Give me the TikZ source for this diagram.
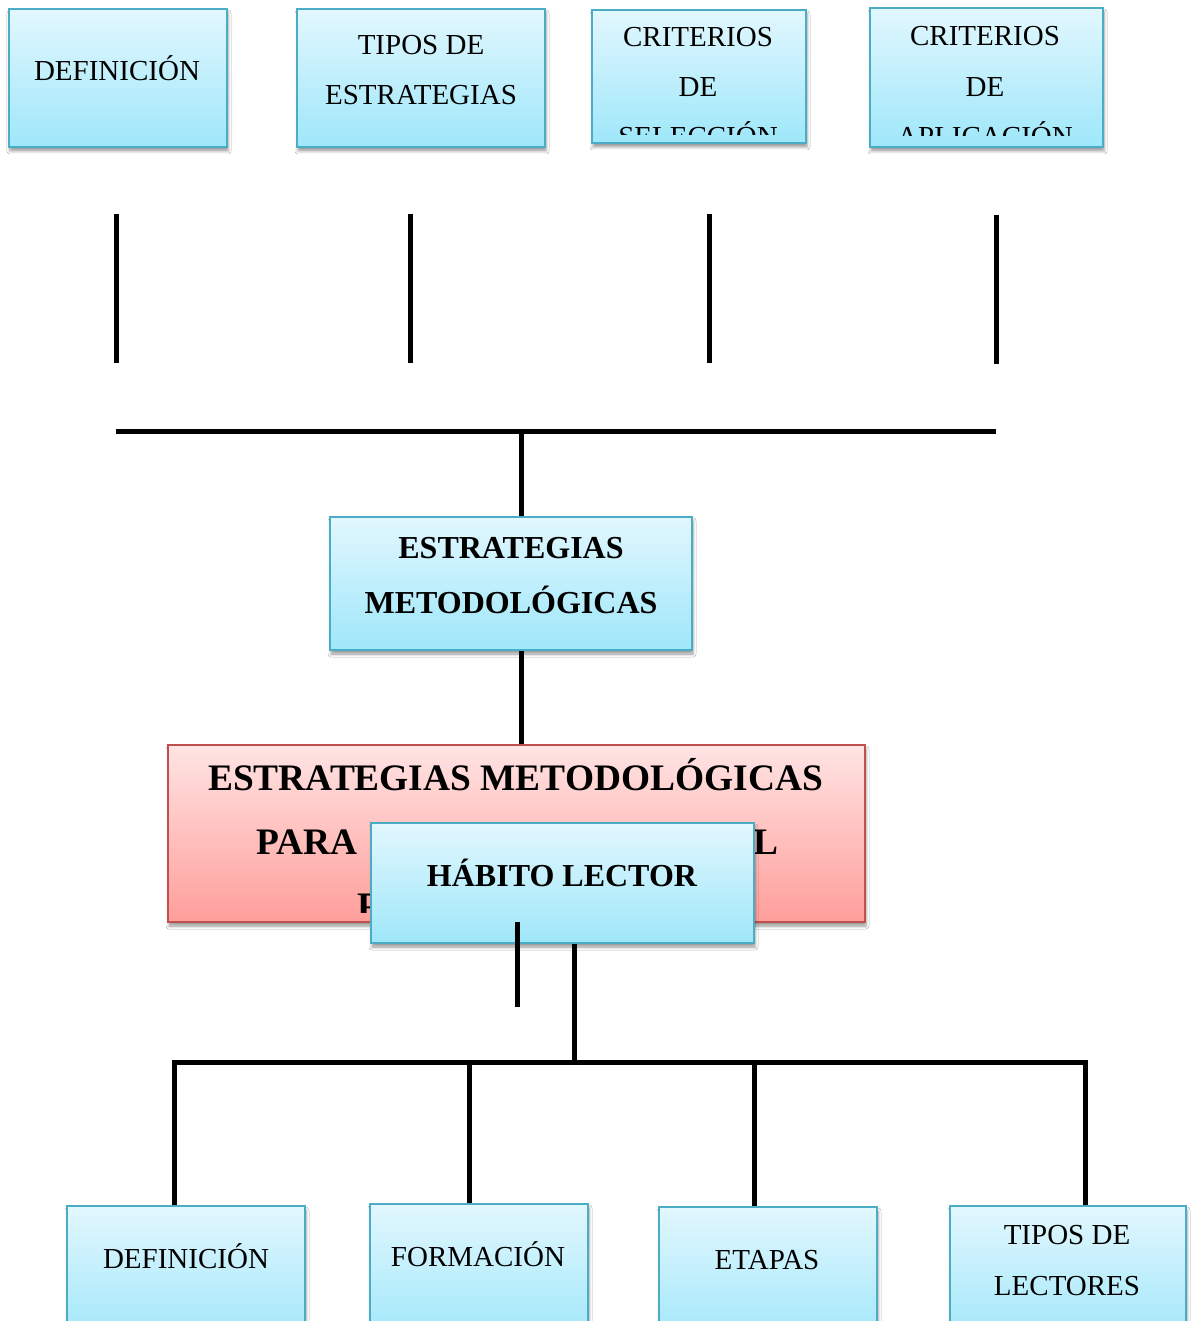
\documentclass[tikz,border=0pt]{standalone}
\usepackage{fontspec}
\setmainfont{Liberation Serif}
\usetikzlibrary{shadows.blur}
\definecolor{bluetop}{RGB}{226,247,254}
\definecolor{bluebot}{RGB}{158,231,250}
\definecolor{blueedge}{RGB}{75,172,198}
\definecolor{redtop}{RGB}{255,228,228}
\definecolor{redbot}{RGB}{255,158,154}
\definecolor{rededge}{RGB}{192,80,77}
\tikzset{
  bshadow/.style={blur shadow={shadow xshift=1pt, shadow yshift=-4pt, shadow blur radius=3pt, shadow opacity=40}},
  bluebox/.style={draw=blueedge, line width=2pt, top color=bluetop, bottom color=bluebot, inner sep=0pt, bshadow},
  redbox/.style={draw=rededge, line width=2pt, top color=redtop, bottom color=redbot, inner sep=0pt, bshadow},
  toptxt/.style={font=\fontsize{29}{35}\selectfont, anchor=base, inner sep=0pt},
  boldtxt/.style={font=\fontsize{32}{38}\selectfont\bfseries, anchor=base, inner sep=0pt},
  bigtxt/.style={font=\fontsize{37.4}{44}\selectfont\bfseries, anchor=base, inner sep=0pt},
  conn/.style={line width=5pt, black},
}
\begin{document}
\begin{tikzpicture}[x=1pt, y=-1pt]
\clip (0,0) rectangle (1192,1321);
\fill[white] (0,0) rectangle (1192,1321);

% ---------- top boxes ----------
\node[bluebox, minimum width=218pt, minimum height=138pt] (t1) at (118,78) {};
\node[bluebox, minimum width=248pt, minimum height=138pt] (t2) at (421,78) {};
\node[bluebox, minimum width=214pt, minimum height=133pt] (t3) at (699,76.5) {};
\node[bluebox, minimum width=233pt, minimum height=139pt] (t4) at (986.5,77.5) {};

\node[toptxt] (t1a) at (117,81) {DEFINICIÓN};
\node[toptxt] (t2a) at (421,55) {TIPOS DE};
\node[toptxt] (t2b) at (421,105) {ESTRATEGIAS};
\begin{scope}
  \clip (593,11) rectangle (805,135);
  \node[toptxt] (t3a) at (698,47) {CRITERIOS};
  \node[toptxt] (t3b) at (698,97) {DE};
  \node[toptxt] (t3c) at (698,147) {SELECCIÓN};
\end{scope}
\begin{scope}
  \clip (871,9) rectangle (1102,136);
  \node[toptxt] (t4a) at (985,46) {CRITERIOS};
  \node[toptxt] (t4b) at (985,97) {DE};
  \node[toptxt] (t4c) at (985,147) {APLICACIÓN};
\end{scope}

% ---------- top connectors ----------
\coordinate (v1a) at (116,214); \coordinate (v1b) at (116,363);
\coordinate (v2a) at (410,214); \coordinate (v2b) at (410,363);
\coordinate (v3a) at (709,214); \coordinate (v3b) at (709,363);
\coordinate (v4a) at (996,215); \coordinate (v4b) at (996,364);
\draw[conn] (v1a) -- (v1b);
\draw[conn] (v2a) -- (v2b);
\draw[conn] (v3a) -- (v3b);
\draw[conn] (v4a) -- (v4b);
\coordinate (busL) at (116,431); \coordinate (busR) at (996,431);
\coordinate (busM) at (521,431);
\draw[conn] (busL) -- (busR);

% ---------- middle box ----------
\node[bluebox, minimum width=362pt, minimum height=133pt] (mid) at (511,583.5) {};
\node[boldtxt] (mida) at (511,558) {ESTRATEGIAS};
\node[boldtxt] (midb) at (511,613) {METODOLÓGICAS};
\draw[conn] (busM) -- (busM |- mid.north);

% ---------- red box ----------
\node[redbox, minimum width=697pt, minimum height=177pt] (red) at (516.5,833.5) {};
\draw[conn] (mid.south -| busM) -- (red.north -| busM);
\begin{scope}
  \clip (169,746) rectangle (864,912);
  \node[bigtxt] (reda) at (515.5,790) {ESTRATEGIAS METODOLÓGICAS};
  \node[bigtxt, anchor=base west] (redb) at (256,854) {PARA};
  \node[bigtxt, anchor=base west] (redc) at (753,854) {L};
  \node[bigtxt, anchor=base west] (redd) at (357,918) {P};
\end{scope}

% ---------- habito box ----------
\node[bluebox, minimum width=383pt, minimum height=120pt] (hab) at (562.5,883) {};
\node[boldtxt] (haba) at (562,886) {HÁBITO LECTOR};

\coordinate (s1) at (517,922); \coordinate (s2) at (517,1007);
\draw[conn] (s1) -- (s2);
\coordinate (bb) at (574,1062);
\draw[conn] (hab.south -| bb) -- (bb);
\coordinate (bbL) at (171.5,1062); \coordinate (bbR) at (1087.5,1062);
\draw[conn] (bbL) -- (bbR);

% ---------- bottom boxes ----------
\node[bluebox, minimum width=238pt, minimum height=140pt] (b1) at (186,1276) {};
\node[bluebox, minimum width=218pt, minimum height=140pt] (b2) at (479,1274) {};
\node[bluebox, minimum width=218pt, minimum height=140pt] (b3) at (768,1277) {};
\node[bluebox, minimum width=236pt, minimum height=140pt] (b4) at (1068,1276) {};

\node[toptxt] (b1a) at (186,1268) {DEFINICIÓN};
\node[toptxt] (b2a) at (478,1266) {FORMACIÓN};
\node[toptxt] (b3a) at (767,1269) {ETAPAS};
\node[toptxt] (b4a) at (1067,1244) {TIPOS DE};
\node[toptxt] (b4b) at (1067,1295) {LECTORES};

\coordinate (x1) at (174,1062); \coordinate (x2) at (469,1062);
\coordinate (x3) at (754,1062); \coordinate (x4) at (1085,1062);
\draw[conn] (x1) -- (x1 |- b1.north);
\draw[conn] (x2) -- (x2 |- b2.north);
\draw[conn] (x3) -- (x3 |- b3.north);
\draw[conn] (x4) -- (x4 |- b4.north);
\end{tikzpicture}
\end{document}
